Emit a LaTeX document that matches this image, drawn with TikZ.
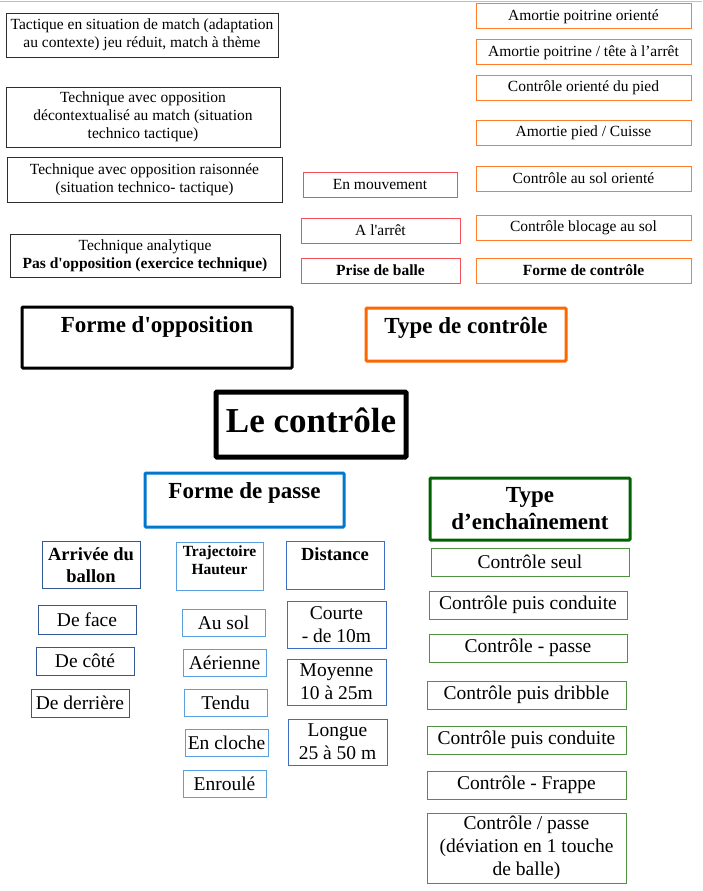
\documentclass[tikz,border=0pt]{standalone}
\usepackage{fontspec}
\setmainfont{Liberation Serif}
\definecolor{levelgray}{RGB}{45,45,45}
\definecolor{catchred}{RGB}{245,80,90}
\definecolor{formorange}{RGB}{255,125,40}
\definecolor{typeorange}{RGB}{255,102,0}
\definecolor{passblue}{RGB}{0,120,205}
\definecolor{arrivblue}{RGB}{50,88,150}
\definecolor{trajblue}{RGB}{90,160,225}
\definecolor{distblue}{RGB}{60,110,200}
\definecolor{chaingreen}{RGB}{0,98,0}
\definecolor{itemgreen}{RGB}{80,145,65}

\begin{document}
\begin{tikzpicture}[
  x=1pt, y=-1pt,
  every node/.style={font=\fontsize{15.5}{18}\selectfont},
  wh/.style 2 args={minimum width=#1pt, minimum height=#2pt},
  levelbox/.style={draw=levelgray, line width=0.9pt, align=center, inner sep=0pt},
  catchbox/.style={draw=catchred, line width=0.9pt, align=center, inner sep=0pt},
  formbox/.style={draw=formorange, line width=1pt, align=center, inner sep=0pt},
  titlebox/.style={draw, line width=3pt, rounded corners=1pt, inner sep=0pt, font=\fontsize{23}{27}\selectfont\bfseries},
  lowbox/.style={line width=1pt, align=center, inner sep=0pt, font=\fontsize{19.5}{23}\selectfont},
  arrivbox/.style={lowbox, draw=arrivblue},
  trajbox/.style={lowbox, draw=trajblue},
  distbox/.style={lowbox, draw=distblue},
  chainbox/.style={lowbox, draw=itemgreen}
]
\useasboundingbox (0,0) rectangle (702,891);
\draw[black!25, line width=1pt] (0,2) -- (702,2);

% forme d'opposition : niveaux
\node[levelbox, wh={272}{44}] (tactique) at (142,35) {Tactique en situation de match (adaptation\\au contexte) jeu réduit, match à thème};
\node[levelbox, wh={274}{60}] (decontext) at (143,117) {Technique avec opposition\\décontextualisé au match (situation\\technico tactique)};
\node[levelbox, wh={275}{45}] (raisonnee) at (144.5,179.5) {Technique avec opposition raisonnée\\(situation technico- tactique)};
\node[levelbox, wh={270}{43}] (analytique) at (145,255.5) {Technique analytique\\\textbf{Pas d\textquotesingle opposition (exercice technique)}};

% prise de balle
\node[catchbox, wh={154}{25}] (mouvement) at (380,184.5) {En mouvement};
\node[catchbox, wh={159}{25}] (arret) at (380.5,230.5) {A l\textquotesingle arrêt};
\node[catchbox, wh={159}{25}, font=\fontsize{15.5}{18}\selectfont\bfseries] (prise) at (380.5,270.5) {Prise de balle};

% forme de controle
\node[formbox, wh={215}{25}] (poitrine) at (583.5,16.5) {Amortie poitrine orienté};
\node[formbox, wh={215}{25}] (tete) at (583.5,52.5) {Amortie poitrine / tête à l’arrêt};
\node[formbox, wh={215}{25}] (pied) at (583.5,87.5) {Contrôle orienté du pied};
\node[formbox, wh={215}{25}] (cuisse) at (583.5,132.5) {Amortie pied / Cuisse};
\node[formbox, wh={215}{25}] (solorient) at (583.5,178.5) {Contrôle au sol orienté};
\node[formbox, wh={215}{25}] (blocage) at (583.5,227.5) {Contrôle blocage au sol};
\node[formbox, wh={215}{25}, font=\fontsize{15.5}{18}\selectfont\bfseries] (formectrl) at (583.5,270.5) {Forme de contrôle};

% titres
\node[titlebox, wh={270}{61}, text height=25pt, text depth=36pt] (opposition) at (157,337.5) {Forme d\textquotesingle opposition};
\node[titlebox, draw=typeorange, wh={200}{53}, text height=25pt, text depth=28pt] (typectrl) at (466,334.5) {Type de contrôle};
\node[titlebox, line width=5pt, wh={190}{65}, text height=40pt, text depth=25pt, font=\fontsize{35}{40}\selectfont\bfseries] (controle) at (311,424.5) {Le contrôle};
\node[titlebox, draw=passblue, wh={199}{54}, text height=25pt, text depth=29pt] (passe) at (244.5,500) {Forme de passe};
\node[titlebox, draw=chaingreen, wh={200}{62}, align=center] (enchainement) at (530,509) {Type\\d’enchaînement};

% forme de passe
\node[arrivbox, wh={98}{47}, font=\fontsize{18.5}{22}\selectfont\bfseries] (arrivee) at (91,565) {Arrivée du\\ballon};
\node[arrivbox, wh={98}{29}] (face) at (87,619.5) {De face};
\node[arrivbox, wh={98}{28}] (cote) at (85,661) {De côté};
\node[arrivbox, wh={98}{28}] (derriere) at (80,703) {De derrière};

\node[trajbox, wh={87}{48}] (trajectoire) at (219.5,566) {\parbox[c][48pt][t]{85pt}{\centering\fontsize{15.5}{17.5}\selectfont\bfseries\vspace*{4pt}Trajectoire\\Hauteur}};
\node[trajbox, wh={83}{27}] (ausol) at (223.5,622.5) {Au sol};
\node[trajbox, wh={83}{27}] (aerienne) at (224.5,662.5) {Aérienne};
\node[trajbox, wh={83}{27}] (tendu) at (225.5,702.5) {Tendu};
\node[trajbox, wh={83}{27}] (cloche) at (226.5,742.5) {En cloche};
\node[trajbox, wh={83}{27}] (enroule) at (224.5,783.5) {Enroulé};

\node[distbox, wh={98}{48}, text height=19pt, text depth=29pt, font=\fontsize{18.5}{22}\selectfont\bfseries] (distance) at (335,565) {Distance};
\node[distbox, wh={99}{47}] (courte) at (336.5,624.5) {Courte\\- de 10m};
\node[distbox, wh={99}{46}] (moyenne) at (336.5,682) {Moyenne\\10 à 25m};
\node[distbox, wh={99}{46}] (longue) at (337.5,742) {Longue\\25 à 50 m};

% type d'enchainement
\node[chainbox, wh={198}{28}] (seul) at (530,562) {Contrôle seul};
\node[chainbox, wh={198}{28}] (conduite) at (528,605) {Contrôle puis conduite};
\node[chainbox, wh={198}{28}] (ctrlpasse) at (528,648) {Contrôle - passe};
\node[chainbox, wh={199}{28}] (dribble) at (526.5,695) {Contrôle puis dribble};
\node[chainbox, wh={199}{28}] (conduitebis) at (526.5,740) {Contrôle puis conduite};
\node[chainbox, wh={199}{28}] (frappe) at (526.5,785) {Contrôle - Frappe};
\node[chainbox, wh={199}{70}] (deviation) at (526.5,848) {Contrôle / passe\\(déviation en 1 touche\\de balle)};
\end{tikzpicture}
\end{document}
